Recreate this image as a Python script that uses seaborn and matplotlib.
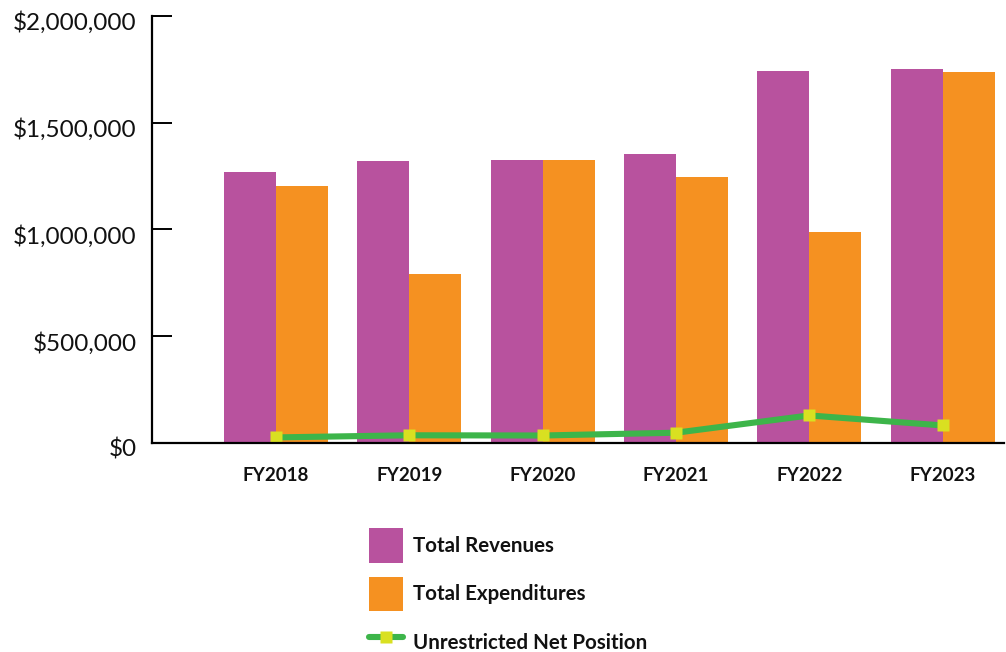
import numpy as np
import pandas as pd
import matplotlib
matplotlib.use("Agg")
import matplotlib.pyplot as plt
import matplotlib.transforms as mtransforms
import seaborn as sns
from matplotlib.patches import Patch
from matplotlib.lines import Line2D
from matplotlib.ticker import FuncFormatter

# Fiscal-year financial summary
years = ["FY2018", "FY2019", "FY2020", "FY2021", "FY2022", "FY2023"]
total_revenues = [1271000, 1322000, 1327000, 1355000, 1744000, 1753000]
total_expenditures = [1205000, 793000, 1327000, 1247000, 990000, 1739000]
unrestricted_net_position = [26000, 36000, 35000, 48000, 129000, 82000]

series_names = ["Total Revenues", "Total Expenditures", "Unrestricted Net Position"]
colors = {"Total Revenues": "#b8529e", "Total Expenditures": "#f59121"}
line_color = "#3db54a"
marker_color = "#d9e021"

bars = pd.DataFrame({
    "year": years * 2,
    "series": [series_names[0]] * len(years) + [series_names[1]] * len(years),
    "value": total_revenues + total_expenditures,
})
net = pd.DataFrame({"pos": np.arange(len(years)), "value": unrestricted_net_position})

sns.set_theme(style="white")
plt.rcParams["font.family"] = ["Lato", "DejaVu Sans"]

fig = plt.figure(figsize=(10.06, 6.52), dpi=100)
ax = fig.add_axes([0.151, 0.3206, 0.847, 0.6549])

sns.barplot(data=bars, x="year", y="value", hue="series", order=years,
            palette=colors, width=0.78, saturation=1, ax=ax, legend=False)
for p in ax.patches:
    p.set_edgecolor("none")

sns.lineplot(data=net, x="pos", y="value", ax=ax, color=line_color, lw=4.4,
             marker="s", markersize=9, markerfacecolor=marker_color,
             markeredgecolor="none", zorder=5, legend=False)

ax.set_xlim(-0.93, 5.46)
ax.set_ylim(0, 2000000)
ax.set_yticks([0, 500000, 1000000, 1500000, 2000000])
ax.yaxis.set_major_formatter(FuncFormatter(lambda v, _: f"${v:,.0f}"))
ax.set_xticks(range(len(years)))
ax.set_xticklabels(years)
ax.set_xlabel("")
ax.set_ylabel("")

for s in ["top", "right"]:
    ax.spines[s].set_visible(False)
for s in ["left", "bottom"]:
    ax.spines[s].set_color("black")
    ax.spines[s].set_linewidth(1.6)
ax.spines["bottom"].set_zorder(6)

ax.tick_params(axis="y", direction="in", length=14.5, width=1.4, color="black",
               pad=11, labelsize=17.5, labelcolor="#111111", left=True)
ax.tick_params(axis="x", length=0, pad=17, labelsize=13.5, labelcolor="#111111")
for lbl in ax.get_xticklabels():
    lbl.set_fontweight("bold")

# nudge the dollar labels slightly below their ticks
shift = mtransforms.ScaledTranslation(0, -5 / 100, fig.dpi_scale_trans)
for lbl in ax.get_yticklabels():
    lbl.set_transform(lbl.get_transform() + shift)

handles = [
    Patch(facecolor=colors["Total Revenues"], edgecolor="none"),
    Patch(facecolor=colors["Total Expenditures"], edgecolor="none"),
    Line2D([0], [0], color=line_color, lw=4.4, marker="s", markersize=8.5,
           markerfacecolor=marker_color, markeredgecolor="none"),
]
leg = fig.legend(handles, series_names, loc="upper left",
                 bbox_to_anchor=(363 / 1006, 1 - 522 / 652),
                 frameon=False, fontsize=14.8, handlelength=1.66, handleheight=2.2,
                 handletextpad=0.48, labelspacing=0.68, borderaxespad=0,
                 borderpad=0.3)
for t in leg.get_texts():
    t.set_fontweight("bold")
    t.set_color("#111111")

fig.savefig("out.png", dpi=100)
